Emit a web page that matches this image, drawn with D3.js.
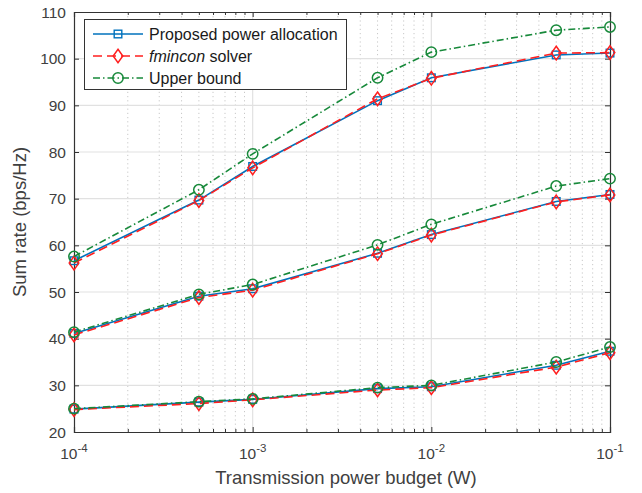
<!DOCTYPE html>
<html>
<head>
<meta charset="utf-8">
<script src="https://cdn.jsdelivr.net/npm/d3@7"></script>
<style>
  html, body { margin: 0; padding: 0; background: #fff; }
  svg { display: block; font-family: "Liberation Sans", Arial, Helvetica, sans-serif; }
</style>
</head>
<body>
<svg id="chart" width="642" height="493"></svg>
<script>
// ---------------- data ----------------
const powerBudget = [1e-4, 5e-4, 1e-3, 5e-3, 1e-2, 5e-2, 1e-1];

const proposedHigh = [56.7, 69.7, 76.9, 91.0, 95.9, 100.8, 101.2];
const fminconHigh  = [56.2, 69.6, 76.6, 91.4, 95.8, 101.2, 101.3];
const upperHigh    = [57.6, 71.9, 79.6, 95.9, 101.4, 106.1, 106.8];

const proposedMid  = [41.1, 49.1, 50.7, 58.3, 62.3, 69.4, 70.9];
const fminconMid   = [40.8, 48.8, 50.4, 58.2, 62.2, 69.3, 70.8];
const upperMid     = [41.4, 49.5, 51.6, 60.1, 64.5, 72.7, 74.3];

const proposedLow  = [24.9, 26.4, 27.0, 29.3, 29.7, 34.3, 37.3];
const fminconLow   = [24.8, 26.1, 26.9, 29.0, 29.5, 33.9, 37.0];
const upperLow     = [25.0, 26.5, 27.1, 29.5, 30.0, 35.0, 38.2];

const yTicks = [20, 30, 40, 50, 60, 70, 80, 90, 100, 110];
const xTicks = [1e-4, 1e-3, 1e-2, 1e-1];
const xTickExps = ["-4", "-3", "-2", "-1"];
const legendLabels = ["Proposed power allocation", "fmincon", "Upper bound"];
const xLabel = "Transmission power budget (W)";
const yLabel = "Sum rate (bps/Hz)";

// ---------------- layout ----------------
const L = 74, R = 610, T = 12, B = 432;
const svg = d3.select("#chart");
const x = d3.scaleLog().domain([1e-4, 1e-1]).range([L, R]);
const y = d3.scaleLinear().domain([20, 110]).range([B, T]);

const BLUE = "#0072BD", RED = "#FF1F1F", GREEN = "#17893A";
const AX = "#333333", TXT = "#404040";

// minor x ticks
const minorX = [];
for (let e = -4; e < -1; e++) for (let m = 2; m <= 9; m++) minorX.push(m * Math.pow(10, e));

// grid
const grid = svg.append("g");
grid.selectAll(".minor").data(minorX).join("line")
  .attr("x1", d => x(d)).attr("x2", d => x(d)).attr("y1", T).attr("y2", B)
  .attr("stroke", "#c8c8c8").attr("stroke-width", 1).attr("stroke-dasharray", "1.2,3");
grid.selectAll(".majx").data(xTicks.slice(1, -1)).join("line")
  .attr("x1", d => x(d)).attr("x2", d => x(d)).attr("y1", T).attr("y2", B)
  .attr("stroke", "#e1e1e1").attr("stroke-width", 1.2);
grid.selectAll(".majy").data(yTicks.slice(1, -1)).join("line")
  .attr("x1", L).attr("x2", R).attr("y1", d => y(d)).attr("y2", d => y(d))
  .attr("stroke", "#e1e1e1").attr("stroke-width", 1.2);

// axes via d3 axis generators (ticks inward)
const axG = svg.append("g");
const yAxisL = d3.axisLeft(y).tickValues(yTicks).tickSize(-5).tickFormat("");
const yAxisR = d3.axisRight(y).tickValues(yTicks).tickSize(-5).tickFormat("");
const xAxisB = d3.axisBottom(x).tickValues(xTicks).tickSize(-5).tickFormat("");
const xAxisT = d3.axisTop(x).tickValues(xTicks).tickSize(-5).tickFormat("");
const xAxisBm = d3.axisBottom(x).tickValues(minorX).tickSize(-3).tickFormat("");
const xAxisTm = d3.axisTop(x).tickValues(minorX).tickSize(-3).tickFormat("");
function styleAxis(g) {
  g.selectAll("path").attr("stroke", AX).attr("stroke-width", 1.2);
  g.selectAll("line").attr("stroke", AX).attr("stroke-width", 1);
}
axG.append("g").attr("transform", `translate(${L},0)`).call(yAxisL).call(styleAxis);
axG.append("g").attr("transform", `translate(${R},0)`).call(yAxisR).call(styleAxis);
axG.append("g").attr("transform", `translate(0,${B})`).call(xAxisB).call(styleAxis);
axG.append("g").attr("transform", `translate(0,${T})`).call(xAxisT).call(styleAxis);
axG.append("g").attr("transform", `translate(0,${B})`).call(xAxisBm).call(g => g.select("path").remove()).call(styleAxis);
axG.append("g").attr("transform", `translate(0,${T})`).call(xAxisTm).call(g => g.select("path").remove()).call(styleAxis);

// tick labels
svg.append("g").selectAll("text").data(yTicks).join("text")
  .attr("x", L - 8).attr("y", d => y(d)).attr("dy", "0.36em")
  .attr("text-anchor", "end").attr("font-size", 15.5).attr("fill", TXT)
  .text(d => d);
const xl = svg.append("g").selectAll("text").data(xTicks).join("text")
  .attr("x", d => x(d)).attr("y", 459)
  .attr("text-anchor", "middle").attr("font-size", 15.5).attr("fill", TXT);
xl.append("tspan").text("10");
xl.append("tspan").attr("dy", -7).attr("font-size", 11.5).text((d, i) => xTickExps[i]);

// axis titles
svg.append("text").attr("x", (L + R) / 2 + 4).attr("y", 484).attr("text-anchor", "middle")
  .attr("font-size", 18.5).attr("fill", TXT).text(xLabel);
svg.append("text").attr("transform", `translate(26,${(T + B) / 2}) rotate(-90)`)
  .attr("text-anchor", "middle").attr("font-size", 18.5).attr("fill", TXT).text(yLabel);

// ---------------- series ----------------
const line = d3.line().x(d => x(d[0])).y(d => y(d[1]));
const zip = vals => powerBudget.map((p, i) => [p, vals[i]]);

const series = [
  { vals: proposedHigh, type: "prop" }, { vals: proposedMid, type: "prop" }, { vals: proposedLow, type: "prop" },
  { vals: fminconHigh, type: "fmin" }, { vals: fminconMid, type: "fmin" }, { vals: fminconLow, type: "fmin" },
  { vals: upperHigh, type: "upper" }, { vals: upperMid, type: "upper" }, { vals: upperLow, type: "upper" }
];
const style = {
  prop:  { color: BLUE,  dash: null,           marker: "square" },
  fmin:  { color: RED,   dash: "9,5",          marker: "diamond" },
  upper: { color: GREEN, dash: "7,3,1.5,3",    marker: "circle" }
};

function drawMarker(g, type, cx, cy, color) {
  if (type === "square") {
    g.append("rect").attr("x", cx - 3.8).attr("y", cy - 3.8).attr("width", 7.6).attr("height", 7.6)
      .attr("fill", "none").attr("stroke", color).attr("stroke-width", 1.4);
  } else if (type === "diamond") {
    g.append("path").attr("d", `M${cx},${cy - 6.8}L${cx + 4.8},${cy}L${cx},${cy + 6.8}L${cx - 4.8},${cy}Z`)
      .attr("fill", "none").attr("stroke", color).attr("stroke-width", 1.5);
  } else {
    g.append("circle").attr("cx", cx).attr("cy", cy).attr("r", 5.2)
      .attr("fill", "none").attr("stroke", color).attr("stroke-width", 1.5);
  }
}

const plotG = svg.append("g");
series.forEach(s => {
  const st = style[s.type];
  const g = plotG.append("g");
  g.append("path").datum(zip(s.vals)).attr("d", line)
    .attr("fill", "none").attr("stroke", st.color).attr("stroke-width", 1.6)
    .attr("stroke-dasharray", st.dash);
  zip(s.vals).forEach(d => drawMarker(g, st.marker, x(d[0]), y(d[1]), st.color));
});

// ---------------- legend ----------------
const lg = svg.append("g");
lg.append("rect").attr("x", 84.5).attr("y", 19.5).attr("width", 262).attr("height", 70)
  .attr("fill", "#fff").attr("stroke", AX).attr("stroke-width", 1);
const rows = [
  { key: "prop", y: 34 }, { key: "fmin", y: 56 }, { key: "upper", y: 78 }
];
rows.forEach((r, i) => {
  const st = style[r.key];
  lg.append("line").attr("x1", 93).attr("x2", 143).attr("y1", r.y).attr("y2", r.y)
    .attr("stroke", st.color).attr("stroke-width", 1.6).attr("stroke-dasharray", st.dash);
  drawMarker(lg, st.marker, 118, r.y, st.color);
  const t = lg.append("text").attr("x", 149).attr("y", r.y).attr("dy", "0.36em")
    .attr("font-size", 16).attr("fill", "#1a1a1a");
  if (r.key === "fmin") {
    t.append("tspan").attr("font-style", "italic").text(legendLabels[1]);
    t.append("tspan").text(" solver");
  } else {
    t.text(legendLabels[i]);
  }
});
</script>
</body>
</html>
